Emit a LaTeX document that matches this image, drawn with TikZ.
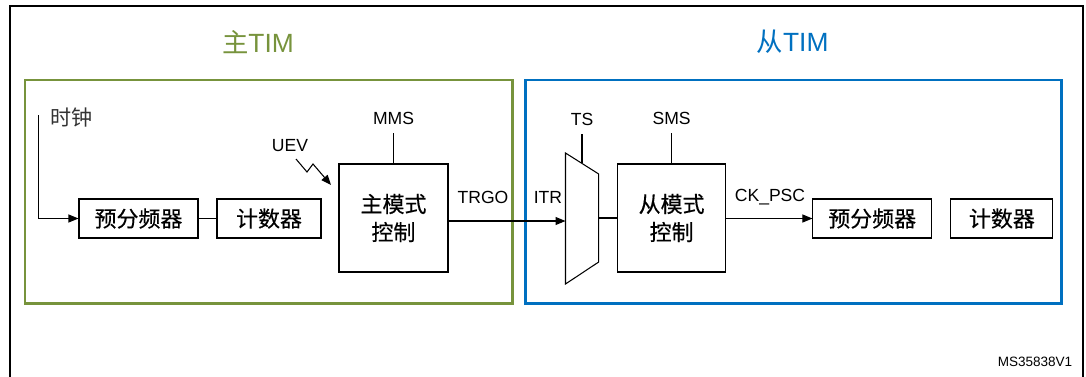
\documentclass[tikz,border=0pt]{standalone}
\usepackage{fontspec}
\setmainfont{Liberation Sans}
\newfontfamily\cjk{Noto Sans CJK SC}
\newfontfamily\cjkbox[FakeBold=0.4]{Noto Sans CJK SC}
\usepackage{tikz}
\usetikzlibrary{arrows.meta}
\definecolor{mastergreen}{RGB}{119,147,60}
\definecolor{slaveblue}{RGB}{0,112,192}

\begin{document}
\begin{tikzpicture}[x=0.02cm, y=-0.02cm,
        every node/.style={inner sep=0pt},
        block/.style={draw, line width=0.6pt, align=center,
            font=\cjkbox\fontsize{12.5}{16}\selectfont},
        sig/.style={font=\fontsize{10}{12}\selectfont},
        heading/.style={font=\fontsize{15}{18}\selectfont},
        wire/.style={line width=0.6pt},
        tip/.style={-{Triangle[length=0.2cm,width=0.16cm]}}]
            \useasboundingbox (0,0) rectangle (1086,376);

            % frames
            \draw[line width=1.2pt] (10,390) -- (10,6) -- (1083,6) -- (1083,390);
            \draw[mastergreen, line width=1.3pt] (25,80) rectangle (512.5,303.5);
            \draw[slaveblue, line width=1.3pt] (525.5,80) rectangle (1061.5,303.5);
            \node[heading, text=mastergreen] (mtitle) at (258,42) {{\cjk 主}TIM};
            \node[heading, text=slaveblue] (stitle) at (792.6,42) {{\cjk 从}TIM};

            % master side
            \node[block, minimum width=2.38cm, minimum height=0.78cm] (psc1) at (138.5,218.5) {预分频器};
            \node[block, minimum width=2.08cm, minimum height=0.78cm] (cnt1) at (269,218.5) {计数器};
            \node[block, minimum width=2.18cm, minimum height=2.16cm] (mmc) at (393.5,218) {主模式\\控制};
            \node[anchor=west, text=black!80, font=\cjk\fontsize{12}{14}\selectfont] (clk) at (50,118) {时钟};
            \node[sig] (mms) at (393.5,118) {MMS};
            \node[sig] (uev) at (290,146) {UEV};
            \node[sig] (trgo) at (483,197) {TRGO};
            \coordinate (clk-top) at (38.8,115);
            \draw[wire, tip] (clk-top) |- (psc1.west);
            \draw[wire] (psc1) -- (cnt1);
            \draw[wire, shorten <=0.17cm] (mms.south) -- (mmc.north);
            \coordinate (bolt-a) at (296,159);
            \coordinate (bolt-b) at (307,172);
            \coordinate (bolt-c) at (313,164);
            \coordinate (bolt-d) at (331,185);
            \draw[wire, tip] (bolt-a) -- (bolt-b) -- (bolt-c) -- (bolt-d);

            % multiplexer
            \coordinate (mux-tl) at (565.5,153);
            \coordinate (mux-tr) at (598.7,174);
            \coordinate (mux-br) at (598.7,262);
            \coordinate (mux-bl) at (565.5,284);
            \coordinate (mux-in) at (565.5,221);
            \coordinate (mux-out) at (598.7,218);
            \coordinate (ts-foot) at (582,163.4);
            \draw[wire] (mux-tl) -- (mux-tr) -- (mux-br) -- (mux-bl) -- cycle;
            \node[sig] (ts) at (582,119) {TS};
            \node[sig] (itr) at (548,197) {ITR};
            \draw[wire, shorten <=0.17cm] (ts.south) -- (ts-foot);
            \draw[wire, tip] (mmc.east |- mux-in) -- (mux-in);

            % slave side
            \node[block, minimum width=2.16cm, minimum height=2.16cm] (smc) at (671.6,218) {从模式\\控制};
            \node[block, minimum width=2.37cm, minimum height=0.78cm] (psc2) at (872.2,218.5) {预分频器};
            \node[block, minimum width=2.04cm, minimum height=0.78cm] (cnt2) at (1001.9,218.5) {计数器};
            \node[sig] (sms) at (671.6,118) {SMS};
            \node[sig] (ckpsc) at (770,197) {CK\_PSC};
            \draw[wire] (mux-out) -- (smc.west |- mux-out);
            \draw[wire, shorten <=0.17cm] (sms.south) -- (smc.north);
            \draw[wire, tip] (smc.east |- psc2.west) -- (psc2.west);

            \node[font=\fontsize{7.7}{9}\selectfont] (ref) at (1035,362) {MS35838V1};
        \end{tikzpicture}
\end{document}
